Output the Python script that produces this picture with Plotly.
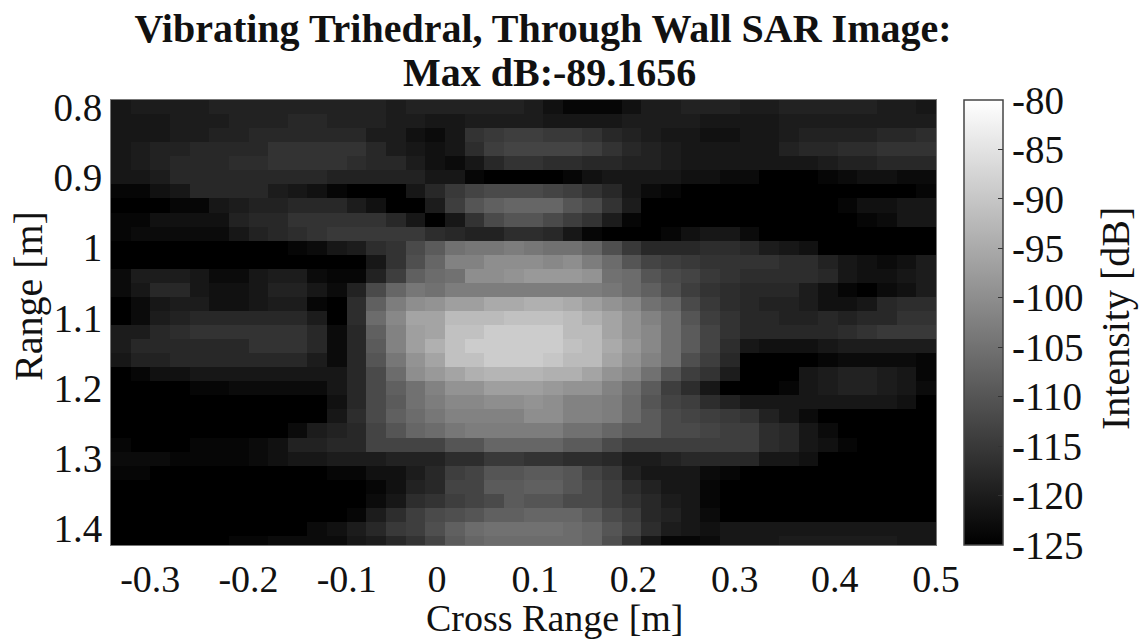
import plotly.graph_objects as go

TITLE_1 = "Vibrating Trihedral, Through Wall SAR Image:"
TITLE_2 = "Max dB:-89.1656"
cross_range = [-0.33,-0.31,-0.29,-0.27,-0.25,-0.23,-0.21,-0.19,-0.17,-0.15,-0.13,-0.11,-0.09,-0.07,-0.05,-0.03,-0.01,0.01,0.03,0.05,0.07,
               0.09,0.11,0.13,0.15,0.17,0.19,0.21,0.23,0.25,0.27,0.29,0.31,0.33,0.35,0.37,0.39,0.41,0.43,0.45,0.47,0.49]
range_m = [0.80,0.82,0.84,0.86,0.88,0.90,0.92,0.94,0.96,0.98,1.00,1.02,1.04,1.06,1.08,1.10,
           1.12,1.14,1.16,1.18,1.20,1.22,1.24,1.26,1.28,1.30,1.32,1.34,1.36,1.38,1.40,1.42]

intensity_db = [
[-121,-120,-120,-120,-120,-119,-119,-119,-119,-119,-119,-119,-119,-119,-120,-119,-119,-119,-119,-119,-119,-120,-122,-124,-124,-124,-122,-120,-120,-119,-119,-119,-120,-120,-119,-119,-119,-119,-119,-120,-120,-121],
[-121,-121,-121,-120,-120,-120,-119,-119,-119,-118,-118,-119,-119,-119,-120,-120,-121,-121,-120,-120,-120,-120,-121,-121,-121,-121,-120,-120,-120,-120,-121,-121,-121,-121,-120,-120,-120,-120,-120,-120,-120,-120],
[-121,-121,-121,-120,-120,-119,-119,-118,-118,-118,-118,-118,-118,-120,-120,-122,-123,-121,-116,-115,-114,-114,-115,-115,-116,-118,-119,-120,-121,-121,-122,-122,-121,-121,-120,-119,-119,-119,-119,-118,-118,-117],
[-121,-120,-119,-119,-118,-118,-118,-118,-116,-116,-116,-116,-116,-118,-120,-121,-122,-121,-117,-114,-113,-113,-113,-113,-114,-116,-118,-119,-120,-121,-121,-121,-121,-121,-119,-118,-118,-117,-117,-116,-116,-116],
[-121,-120,-119,-118,-118,-118,-117,-117,-116,-116,-116,-116,-117,-118,-118,-120,-122,-123,-121,-118,-116,-116,-117,-117,-118,-118,-119,-119,-120,-121,-121,-121,-121,-121,-121,-121,-120,-119,-119,-118,-118,-118],
[-121,-121,-120,-118,-118,-118,-118,-118,-118,-118,-118,-119,-119,-119,-119,-119,-121,-121,-124,-125,-125,-125,-125,-124,-122,-121,-121,-121,-121,-122,-122,-123,-123,-125,-125,-125,-124,-123,-122,-122,-123,-123],
[-124,-124,-122,-121,-118,-118,-118,-118,-120,-121,-122,-124,-125,-125,-125,-121,-118,-115,-113,-112,-112,-112,-113,-114,-116,-118,-121,-123,-124,-125,-125,-125,-125,-125,-125,-125,-125,-125,-125,-125,-125,-124],
[-125,-125,-125,-124,-124,-121,-120,-119,-119,-118,-118,-118,-120,-122,-125,-125,-120,-114,-110,-108,-107,-107,-107,-110,-112,-116,-120,-125,-125,-125,-125,-125,-125,-125,-125,-125,-125,-124,-122,-122,-121,-121],
[-124,-124,-122,-122,-122,-122,-119,-118,-118,-116,-116,-116,-116,-116,-118,-121,-125,-121,-116,-112,-110,-110,-112,-114,-116,-120,-124,-125,-125,-125,-125,-125,-125,-125,-125,-125,-125,-125,-124,-123,-121,-121],
[-124,-123,-123,-123,-123,-123,-121,-119,-118,-117,-116,-115,-115,-115,-115,-115,-117,-118,-119,-119,-117,-117,-118,-121,-124,-125,-125,-125,-124,-122,-121,-121,-123,-125,-125,-125,-125,-125,-125,-125,-125,-125],
[-125,-125,-125,-125,-125,-125,-125,-125,-125,-124,-123,-121,-120,-117,-116,-112,-109,-105,-104,-104,-103,-104,-105,-105,-107,-111,-115,-118,-118,-118,-117,-117,-118,-120,-121,-122,-125,-125,-125,-125,-125,-125],
[-125,-125,-125,-125,-125,-125,-125,-125,-125,-125,-125,-125,-125,-121,-116,-111,-107,-102,-102,-100,-100,-100,-101,-100,-103,-106,-110,-113,-114,-115,-116,-116,-116,-116,-117,-117,-119,-121,-122,-123,-122,-120],
[-123,-120,-120,-120,-121,-123,-123,-121,-120,-120,-123,-124,-124,-119,-114,-108,-106,-105,-100,-100,-99,-98,-98,-98,-99,-105,-106,-110,-112,-113,-115,-116,-117,-117,-117,-117,-118,-121,-122,-122,-121,-120],
[-123,-121,-118,-118,-121,-122,-122,-121,-119,-119,-121,-123,-119,-112,-107,-104,-105,-103,-103,-103,-103,-103,-103,-103,-103,-104,-106,-108,-111,-114,-116,-117,-118,-118,-118,-120,-122,-124,-125,-123,-122,-120],
[-125,-123,-121,-120,-120,-122,-122,-121,-120,-120,-124,-125,-117,-108,-103,-100,-99,-97,-97,-95,-95,-94,-94,-95,-97,-99,-101,-105,-107,-112,-115,-117,-118,-119,-119,-120,-122,-122,-121,-118,-117,-117],
[-125,-123,-120,-119,-118,-118,-118,-118,-118,-118,-120,-125,-117,-106,-101,-96,-96,-92,-92,-92,-91,-91,-91,-92,-94,-96,-99,-102,-105,-110,-114,-116,-118,-118,-119,-119,-118,-119,-118,-118,-116,-116],
[-120,-120,-118,-117,-116,-116,-116,-116,-116,-116,-118,-123,-118,-108,-102,-97,-96,-91,-91,-89,-89,-89,-89,-92,-92,-96,-99,-101,-105,-109,-113,-116,-118,-118,-118,-118,-118,-117,-116,-115,-115,-115],
[-120,-118,-118,-118,-118,-118,-118,-116,-116,-116,-118,-123,-118,-109,-102,-97,-94,-91,-89,-89,-89,-89,-89,-91,-92,-95,-98,-101,-105,-109,-113,-117,-121,-122,-122,-122,-121,-120,-120,-120,-120,-120],
[-121,-119,-119,-118,-118,-118,-118,-118,-118,-118,-120,-123,-118,-110,-104,-99,-96,-91,-91,-89,-89,-89,-90,-92,-92,-96,-99,-102,-105,-111,-114,-118,-125,-125,-125,-125,-124,-123,-123,-123,-123,-124],
[-125,-124,-122,-122,-121,-121,-121,-121,-121,-121,-121,-121,-118,-112,-106,-100,-98,-96,-94,-93,-93,-93,-94,-94,-96,-99,-101,-105,-110,-114,-116,-120,-125,-125,-125,-121,-120,-119,-119,-120,-121,-124],
[-125,-125,-125,-125,-124,-124,-123,-123,-123,-123,-123,-121,-118,-112,-108,-105,-102,-99,-99,-97,-97,-97,-98,-99,-99,-102,-105,-109,-114,-117,-121,-125,-125,-125,-124,-121,-120,-119,-119,-120,-121,-123],
[-125,-125,-125,-125,-125,-125,-125,-125,-125,-125,-125,-122,-118,-112,-109,-105,-103,-101,-101,-100,-100,-99,-100,-102,-102,-103,-106,-110,-113,-114,-117,-119,-121,-121,-121,-121,-121,-121,-121,-121,-122,-125],
[-125,-125,-125,-125,-125,-125,-125,-125,-125,-125,-125,-121,-117,-112,-108,-106,-104,-102,-102,-102,-102,-100,-100,-102,-102,-103,-106,-109,-112,-113,-114,-115,-116,-119,-121,-123,-125,-125,-125,-125,-125,-125],
[-125,-125,-125,-125,-125,-125,-125,-125,-125,-123,-120,-119,-118,-113,-110,-107,-106,-104,-103,-103,-103,-103,-103,-105,-105,-107,-109,-109,-112,-112,-113,-114,-114,-117,-118,-121,-123,-125,-125,-125,-125,-125],
[-124,-125,-125,-125,-124,-124,-124,-123,-122,-119,-119,-118,-118,-113,-113,-113,-113,-110,-110,-107,-107,-107,-107,-109,-109,-112,-114,-114,-114,-114,-114,-114,-114,-117,-118,-121,-122,-124,-125,-125,-125,-125],
[-123,-123,-123,-124,-124,-124,-124,-123,-122,-121,-121,-120,-120,-120,-119,-119,-119,-117,-117,-115,-115,-116,-116,-117,-117,-118,-120,-120,-119,-118,-118,-118,-118,-121,-121,-122,-125,-125,-125,-125,-125,-125],
[-124,-124,-125,-125,-125,-125,-125,-125,-125,-125,-125,-124,-124,-122,-122,-120,-118,-114,-113,-110,-110,-109,-109,-110,-113,-115,-119,-121,-121,-121,-123,-124,-125,-125,-125,-125,-125,-125,-125,-125,-125,-125],
[-125,-125,-125,-125,-125,-125,-125,-125,-125,-125,-125,-125,-125,-124,-122,-119,-118,-113,-113,-109,-109,-108,-108,-110,-112,-114,-117,-119,-121,-121,-124,-125,-125,-125,-125,-125,-125,-125,-125,-125,-125,-125],
[-125,-125,-125,-125,-125,-125,-125,-125,-125,-125,-125,-125,-125,-123,-121,-117,-116,-114,-113,-112,-109,-110,-110,-112,-112,-114,-116,-118,-120,-121,-124,-125,-125,-125,-125,-125,-125,-125,-125,-125,-125,-125],
[-125,-125,-125,-125,-125,-125,-125,-125,-125,-125,-125,-125,-124,-120,-117,-114,-112,-111,-110,-108,-108,-107,-107,-107,-109,-112,-114,-118,-119,-121,-123,-125,-125,-125,-125,-125,-125,-125,-125,-125,-125,-125],
[-125,-125,-125,-125,-125,-125,-125,-125,-125,-125,-123,-122,-120,-118,-115,-114,-111,-108,-106,-105,-105,-105,-105,-106,-107,-110,-113,-117,-120,-121,-122,-121,-121,-121,-121,-121,-121,-121,-121,-121,-121,-121],
[-125,-125,-125,-125,-125,-125,-124,-124,-123,-123,-123,-123,-121,-120,-118,-116,-113,-109,-107,-106,-106,-106,-106,-106,-107,-111,-116,-121,-124,-124,-123,-121,-121,-121,-120,-120,-120,-120,-120,-120,-121,-121],
]
assert all(len(r) == 42 for r in intensity_db), [i for i, r in enumerate(intensity_db) if len(r) != 42]
assert len(intensity_db) == 32

x_tick_pos = [-0.3,-0.2,-0.1,-0.008,0.092,0.192,0.295,0.397,0.5]
x_tick_text = ["-0.3","-0.2","-0.1","0","0.1","0.2","0.3","0.4","0.5"]
y_tick_pos = [0.8,0.9,1.0,1.1,1.2,1.3,1.4]
y_tick_text = ["0.8","0.9","1","1.1","1.2","1.3","1.4"]
cb_tick_pos = [-80,-85,-90,-95,-100,-105,-110,-115,-120,-125]
cb_tick_text = ["-80","-85","-90","-95","-100","-105","-110","-115","-120","-125"]

FONT = "Liberation Serif"
INK = "#111111"
W, H = 1139, 640
L, R, T, B = 111, 936, 100, 545

fig = go.Figure(go.Heatmap(
    x=cross_range, y=range_m, z=intensity_db, zmin=-125, zmax=-80,
    colorscale=[[0, "#000000"], [1, "#ffffff"]],
    colorbar=dict(
        x=(964 - L) / (R - L), xanchor="left",
        y=0.5, yanchor="middle", lenmode="fraction", len=1,
        thickness=39, thicknessmode="pixels", xpad=0, ypad=0,
        outlinecolor="#444444", outlinewidth=1.5,
        tickmode="array", tickvals=cb_tick_pos, ticktext=cb_tick_text,
        ticks="inside", ticklen=5, tickcolor="#333333",
        tickfont=dict(family=FONT, size=39, color=INK),
    ),
))

def note(text, px, py, angle=0, size=40, weight="normal"):
    return dict(text=text, xref="paper", yref="paper",
                x=(px - L) / (R - L), y=1 - (py - T) / (B - T),
                xanchor="center", yanchor="middle", showarrow=False, textangle=angle,
                font=dict(family=FONT, size=size, color=INK, weight=weight))

fig.update_layout(
    width=W, height=H, margin=dict(l=L, r=W - R, t=T, b=H - B, autoexpand=False),
    paper_bgcolor="white", plot_bgcolor="black",
    title=dict(text=TITLE_1, xref="container", yref="container", x=543 / W, xanchor="center",
               y=1 - 28 / H, yanchor="middle",
               font=dict(family=FONT, size=40, color=INK, weight="bold")),
    xaxis=dict(range=[-0.34, 0.5], tickmode="array", tickvals=x_tick_pos, ticktext=x_tick_text,
               ticks="", showgrid=False, zeroline=False, showline=True, mirror=True,
               linecolor="#777777", linewidth=1,
               tickfont=dict(family=FONT, size=38, color=INK)),
    yaxis=dict(range=[1.423, 0.79], tickmode="array", tickvals=y_tick_pos, ticktext=y_tick_text,
               ticks="", showgrid=False, zeroline=False, showline=True, mirror=True,
               linecolor="#777777", linewidth=1,
               tickfont=dict(family=FONT, size=39, color=INK)),
    annotations=[
        note(TITLE_2, 549, 72, weight="bold"),
        note("Cross Range [m]", 555, 617.5, size=38),
        note("Range [m]", 28, 296, -90),
        note("Intensity [dB]", 1115, 319, -90),
    ],
)

fig.write_html("out.html", config=dict(displayModeBar=False), post_script="document.body.style.margin='0';")
